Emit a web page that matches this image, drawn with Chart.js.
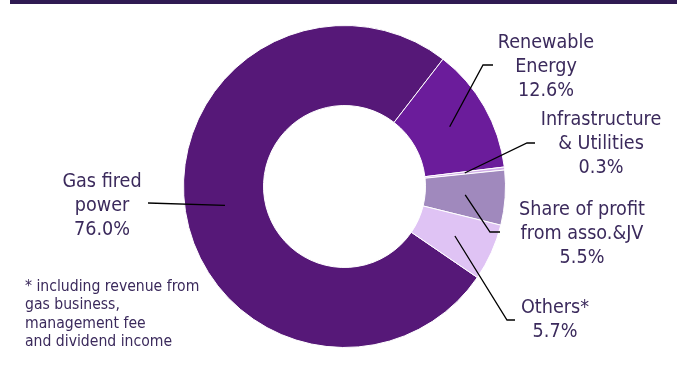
<!DOCTYPE html>
<html>
<head>
<meta charset="utf-8">
<script src="https://cdn.jsdelivr.net/npm/chart.js@4.4.0/dist/chart.umd.min.js"></script>
<style>
  html, body { margin: 0; padding: 0; background: #ffffff; }
  #wrap { width: 685px; height: 367px; position: relative; }
</style>
</head>
<body>
<div id="wrap"><canvas id="c" width="685" height="367"></canvas></div>
<script>
// ---- data ----
const categories = ["Gas fired power", "Renewable Energy", "Infrastructure & Utilities", "Share of profit from asso.&JV", "Others*"];
const labelLines = [["Gas fired", "power"], ["Renewable", "Energy"], ["Infrastructure", "& Utilities"], ["Share of profit", "from asso.&JV"], ["Others*"]];
const shares = [76.0, 12.6, 0.3, 5.5, 5.7];
const footnoteLines = ["* including revenue from", "gas business,", "management fee", "and dividend income"];

// ---- styling / layout ----
const colors = ["#561878", "#6b1c9b", "#d2aee8", "#a089bd", "#dfc3f4"];
const textColor = "#3b2a5c";
const fontFamily = "'DejaVu Sans Condensed', 'Liberation Sans', sans-serif";
// label layout: center x, y of first line, elbow point and end of leader line
const labelLayout = [
  { cx: 102, y: 182, elbow: null, end: [148, 203] },
  { cx: 546, y: 43, elbow: [483, 65], end: [493, 65] },
  { cx: 601, y: 120, elbow: [527, 143], end: [535, 143] },
  { cx: 582, y: 210, elbow: [490, 232], end: [500, 232] },
  { cx: 555, y: 308, elbow: [507, 320], end: [515, 320] }
];
const lineGap = 24;

const overlay = {
  id: 'overlay',
  afterDraw(chart) {
    const ctx = chart.ctx;
    ctx.save();
    // top bar
    ctx.fillStyle = "#2f1a52";
    ctx.fillRect(10, 0, 667, 4);

    const meta = chart.getDatasetMeta(0);
    // leader lines
    ctx.strokeStyle = "#000000";
    ctx.lineWidth = 1.3;
    meta.data.forEach((arc, i) => {
      const p = arc.tooltipPosition();
      const L = labelLayout[i];
      ctx.beginPath();
      ctx.moveTo(p.x, p.y);
      if (L.elbow) ctx.lineTo(L.elbow[0], L.elbow[1]);
      ctx.lineTo(L.end[0], L.end[1]);
      ctx.stroke();
    });

    // labels
    ctx.fillStyle = textColor;
    ctx.textAlign = "center";
    ctx.textBaseline = "middle";
    ctx.font = "19.6px " + fontFamily;
    labelLines.forEach((lines, i) => {
      const L = labelLayout[i];
      const all = lines.concat([shares[i].toFixed(1) + "%"]);
      all.forEach((t, k) => ctx.fillText(t, L.cx, L.y + k * lineGap));
    });

    // footnote
    ctx.textAlign = "left";
    ctx.font = "15.6px " + fontFamily;
    footnoteLines.forEach((t, k) => ctx.fillText(t, 25, 287 + k * 18.3));
    ctx.restore();
  }
};

new Chart(document.getElementById('c'), {
  type: 'doughnut',
  data: {
    labels: categories,
    datasets: [{
      data: shares,
      backgroundColor: colors,
      borderColor: "#ffffff",
      borderWidth: 1,
      hoverOffset: 0
    }]
  },
  options: {
    responsive: false,
    animation: false,
    rotation: 124.4,
    radius: 161,
    cutout: '50.3%',
    layout: { padding: { left: 174.5, right: 170.5, top: 16.5, bottom: 10.5 } },
    plugins: { legend: { display: false }, tooltip: { enabled: false } }
  },
  plugins: [overlay]
});
</script>
</body>
</html>
